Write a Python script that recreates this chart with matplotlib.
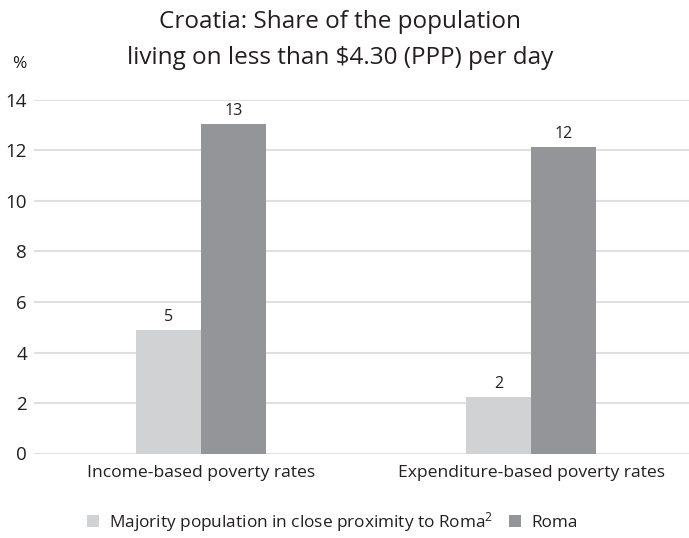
import matplotlib
matplotlib.use("Agg")
import matplotlib.pyplot as plt
from matplotlib.patches import Patch
import numpy as np

categories = ["Income-based poverty rates", "Expenditure-based poverty rates"]
series_names = ["Majority population in close proximity to Roma$^{2}$", "Roma"]
majority = [4.9, 2.25]
roma = [13.05, 12.13]
majority_labels = ["5", "2"]
roma_labels = ["13", "12"]
yticks = [0, 2, 4, 6, 8, 10, 12, 14]

FONT = "Open Sans"
plt.rcParams['font.family'] = [FONT, 'DejaVu Sans']
plt.rcParams['mathtext.fontset'] = 'custom'
plt.rcParams['mathtext.rm'] = FONT
plt.rcParams['mathtext.it'] = FONT
TXT = "#231f20"
LIGHT = "#d1d2d4"
DARK = "#939598"
GRID = "#e0e0e0"

fig = plt.figure(figsize=(6.89, 5.38), dpi=100)
W, H = 689, 538
ax = fig.add_axes([34 / W, (H - 453.5) / H, (W - 34) / W, (453.5 - 100) / H])

x = np.arange(len(categories))
bw = 0.197
b1 = ax.bar(x - bw / 2, majority, bw, color=LIGHT, zorder=3)
b2 = ax.bar(x + bw / 2, roma, bw, color=DARK, zorder=3)

for rect, lab in zip(b1, majority_labels):
    ax.text(rect.get_x() + rect.get_width() / 2, rect.get_height() + 0.2, lab,
            ha="center", va="bottom", fontsize=11.5, color=TXT)
for rect, lab in zip(b2, roma_labels):
    ax.text(rect.get_x() + rect.get_width() / 2, rect.get_height() + 0.2, lab,
            ha="center", va="bottom", fontsize=11.5, color=TXT)

ax.set_xlim((34 - 201) / 330, (689 - 201) / 330)
ax.set_ylim(0, 14)
ax.set_yticks(yticks)
ax.set_yticklabels([str(v) for v in yticks], fontsize=13.5, color=TXT)
ax.set_xticks(x)
ax.set_xticklabels(categories, fontsize=12.6, color=TXT)
ax.tick_params(axis="both", length=0)
ax.tick_params(axis="y", pad=5)
ax.tick_params(axis="x", pad=8)
ax.yaxis.grid(True, color=GRID, linewidth=1.5, zorder=0)
ax.set_axisbelow(True)
for s in ax.spines.values():
    s.set_visible(False)

fig.text(340 / W, 1 - 22 / H, "Croatia: Share of the population",
         ha="center", va="center", fontsize=17.5, color=TXT)
fig.text(340 / W, 1 - 58 / H, "living on less than $4.30 (PPP) per day",
         ha="center", va="center", fontsize=17.5, color=TXT)
fig.text(19 / W, 1 - 64 / H, "%", ha="center", va="center", fontsize=12.5, color=TXT)

handles = [Patch(facecolor=LIGHT, edgecolor="none"), Patch(facecolor=DARK, edgecolor="none")]
leg = fig.legend(handles, series_names, loc="center", bbox_to_anchor=(332 / W, 1 - 522 / H),
                 ncol=2, frameon=False, fontsize=12.4, handlelength=0.7, handleheight=0.7,
                 handletextpad=0.6, columnspacing=0.9, borderpad=0)
for t in leg.get_texts():
    t.set_color(TXT)

fig.savefig("out.png", dpi=100)
